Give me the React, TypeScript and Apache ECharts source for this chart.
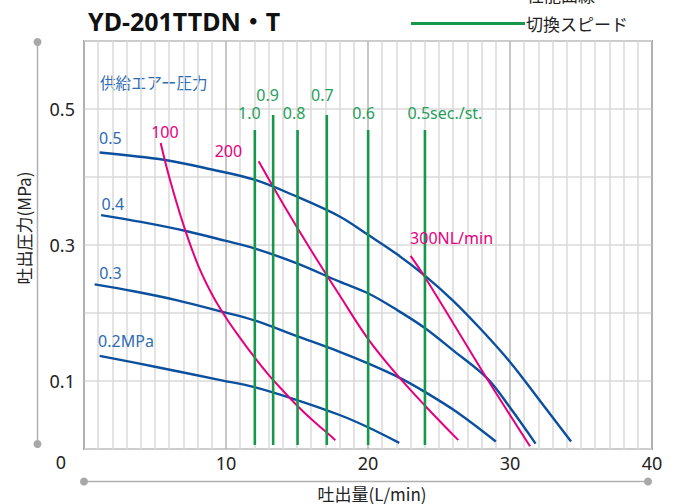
import React, { useEffect, useRef } from "react";
import * as echarts from "echarts";

// ---- data ----
const pressureLabels = ["0.5", "0.4", "0.3", "0.2MPa"];
const pressure05: number[][] = [
  [1.1, 0.436], [5.7, 0.425], [9, 0.411], [12, 0.396], [15, 0.371], [18, 0.342],
  [20, 0.315], [22, 0.287], [24, 0.255], [26, 0.218], [28, 0.175], [30, 0.128],
  [32, 0.074], [34.3, 0.011],
];
const pressure04: number[][] = [
  [1.2, 0.344], [4, 0.334], [7.1, 0.321], [10, 0.306], [12, 0.295], [15, 0.273],
  [18, 0.246], [20, 0.229], [22, 0.205], [24, 0.178], [26, 0.145], [28.4, 0.104],
  [30, 0.061], [31.8, 0.008],
];
const pressure03: number[][] = [
  [0.75, 0.242], [3.5, 0.232], [6.5, 0.219], [9.7, 0.202], [12, 0.189], [15, 0.166],
  [18, 0.143], [20, 0.126], [22.2, 0.105], [24, 0.084], [26.2, 0.055], [29, 0.011],
];
const pressure02: number[][] = [
  [1.1, 0.137], [5, 0.121], [9.7, 0.101], [12, 0.091], [15, 0.072], [18, 0.05],
  [20, 0.032], [22.2, 0.009],
];
const consumptionLabels = ["100", "200", "300NL/min"];
const consumption100: number[][] = [
  [5.4, 0.45], [6, 0.4], [7, 0.33], [8, 0.272], [9, 0.228], [10, 0.193], [11, 0.163],
  [12, 0.135], [13, 0.109], [14, 0.086], [15, 0.064], [16, 0.044], [17, 0.026],
  [17.7, 0.013],
];
const consumption200: number[][] = [
  [12.3, 0.423], [14, 0.361], [16, 0.292], [18, 0.226], [20, 0.162], [22, 0.11],
  [24, 0.064], [26.36, 0.013],
];
const consumption300: number[][] = [
  [23, 0.284], [24, 0.253], [26, 0.185], [28.36, 0.104], [31.41, 0.004],
];
const speedLabels = ["1.0", "0.9", "0.8", "0.7", "0.6", "0.5sec./st."];
const speedX = [12.03, 13.32, 15.04, 17.1, 20.01, 24.01];
const speedTop = [0.469, 0.491, 0.469, 0.491, 0.469, 0.469];
const speedBottom = 0.006;
const yTickLabels = ["0.1", "0.3", "0.5"];
const xTickLabels = ["10", "20", "30", "40"];

const BLUE = "#0b4f9f";
const BLUE_TXT = "#2f6cb3";
const MAG = "#e5007e";
const GREEN = "#16984a";
const GREEN_TXT = "#24a05a";
const FONT = '"Noto Sans", "Noto Sans CJK JP", sans-serif';
const JFONT = '"Noto Sans CJK JP", "Noto Sans", sans-serif';
const CLEAR = "rgba(0,0,0,0)";

export default function App() {
  const ref = useRef<HTMLDivElement>(null);
  useEffect(() => {
    document.body.style.margin = "0";
    document.body.style.overflow = "hidden";
    if (!ref.current) return;
    const chart = echarts.init(ref.current, undefined, { renderer: "svg" });

    const curve = (
      name: string,
      data: number[][],
      color: string,
      width: number,
      labelText: string,
      labelColor: string,
      pos: number[],
      align: string
    ) => ({
      type: "line",
      name,
      silent: true,
      smooth: 0.35,
      symbol: "circle",
      symbolSize: 1,
      showSymbol: true,
      lineStyle: { color, width },
      itemStyle: { color: CLEAR, borderWidth: 0 },
      label: { show: false },
      data: data.map((p, i) =>
        i === 0
          ? {
              value: p,
              label: {
                show: true,
                formatter: labelText,
                position: pos,
                align,
                verticalAlign: "middle",
                color: labelColor,
                fontSize: 16,
                fontFamily: FONT,
              },
            }
          : { value: p }
      ),
    });

    const blueSets = [pressure05, pressure04, pressure03, pressure02];
    const bluePos = [[0, -14], [1, -11], [5, -11], [-1, -14]];
    const magSets = [consumption100, consumption200, consumption300];
    const magPos = [[-9, -11], [-16, -10], [0, -17]];
    const magAlign = ["left", "right", "left"];
    const greenPos = [[-5, -17], [-5, -20], [-3, -17], [-4, -20], [-4, -17], [-17, -17]];

    const series: any[] = [];
    blueSets.forEach((d, i) =>
      series.push(curve("p" + i, d, BLUE, 2.4, pressureLabels[i], BLUE_TXT, bluePos[i], "left"))
    );
    magSets.forEach((d, i) =>
      series.push(curve("c" + i, d, MAG, 2, consumptionLabels[i], MAG, magPos[i], magAlign[i]))
    );
    speedX.forEach((x, i) => {
      series.push({
        type: "line",
        name: "切換スピード",
        silent: true,
        symbol: "circle",
        symbolSize: 1,
        showSymbol: true,
        lineStyle: { color: GREEN, width: 2.6 },
        itemStyle: { color: CLEAR, borderWidth: 0 },
        data: [
          { value: [x, speedBottom] },
          {
            value: [x, speedTop[i]],
            label: {
              show: true,
              formatter: speedLabels[i],
              position: greenPos[i],
              align: i === 5 ? "left" : "center",
              verticalAlign: "middle",
              color: GREEN_TXT,
              fontSize: 16,
              fontFamily: FONT,
            },
          },
        ],
      });
    });

    const dot = (cx: number, cy: number) => ({
      type: "circle",
      shape: { cx, cy, r: 4 },
      style: { fill: "#a8a8a8" },
      silent: true,
    });

    chart.setOption({
      animation: false,
      textStyle: { fontFamily: FONT },
      title: {
        text: "YD-201TTDN・T",
        left: 83,
        top: 3,
        textStyle: { fontSize: 25, fontWeight: "bold", color: "#111", fontFamily: FONT },
      },
      legend: {
        data: ["切換スピード"],
        icon: "rect",
        left: 406,
        top: 10,
        itemWidth: 114,
        itemHeight: 3,
        itemGap: 0,
        itemStyle: { color: GREEN, opacity: 1, borderWidth: 0 },
        textStyle: { fontSize: 17, color: "#222", fontFamily: JFONT, padding: [0, 0, 0, -4] },
        selectedMode: false,
      },
      grid: {
        left: 84,
        right: 24,
        top: 41,
        bottom: 55,
        show: true,
        borderColor: "#a8a8a8",
        borderWidth: 2,
        backgroundColor: "transparent",
      },
      xAxis: {
        type: "value",
        min: 0,
        max: 40,
        interval: 10,
        axisLine: { show: false },
        axisTick: { show: false },
        minorTick: { show: false, splitNumber: 10 },
        minorSplitLine: { show: true, lineStyle: { color: "#dadada", width: 1.5 } },
        splitLine: { show: true, lineStyle: { color: "#b4b4b4", width: 1.5 } },
        axisLabel: {
          margin: 5,
          fontSize: 18,
          color: "#222",
          formatter: (v: number) => {
            const s = String(Math.round(v));
            return xTickLabels.indexOf(s) >= 0 ? s : "";
          },
        },
      },
      yAxis: {
        type: "value",
        min: 0,
        max: 0.6,
        interval: 0.1,
        axisLine: { show: false },
        axisTick: { show: false },
        splitLine: { show: true, lineStyle: { color: "#dadada", width: 1.5 } },
        axisLabel: {
          margin: 9,
          fontSize: 18,
          color: "#222",
          formatter: (v: number) => {
            const s = (Math.round(v * 10) / 10).toFixed(1);
            return yTickLabels.indexOf(s) >= 0 ? s : "";
          },
        },
      },
      graphic: [
        {
          type: "text",
          left: 527,
          top: -14,
          style: { text: "性能曲線", fontSize: 17, fill: "#222", fontFamily: JFONT },
          silent: true,
        },
        {
          type: "text",
          x: 100,
          y: 82,
          style: {
            text: "供給エアー圧力",
            fontSize: 15.5,
            fill: BLUE_TXT,
            fontFamily: JFONT,
            verticalAlign: "middle",
          },
          silent: true,
        },
        {
          type: "text",
          x: 61,
          y: 462,
          style: {
            text: "0",
            fontSize: 18,
            fill: "#222",
            fontFamily: FONT,
            align: "center",
            verticalAlign: "middle",
          },
          silent: true,
        },
        {
          type: "text",
          x: 23,
          y: 228,
          rotation: Math.PI / 2,
          style: {
            text: "吐出圧力(MPa)",
            fontSize: 17,
            fill: "#222",
            fontFamily: JFONT,
            align: "center",
            verticalAlign: "middle",
          },
          silent: true,
        },
        {
          type: "text",
          x: 372,
          y: 493,
          style: {
            text: "吐出量(L/min)",
            fontSize: 17,
            fill: "#222",
            fontFamily: JFONT,
            align: "center",
            verticalAlign: "middle",
          },
          silent: true,
        },
        {
          type: "line",
          shape: { x1: 37.5, y1: 42, x2: 37.5, y2: 444 },
          style: { stroke: "#b0b0b0", lineWidth: 1.5 },
          silent: true,
        },
        dot(37.5, 42),
        dot(37.5, 444),
        {
          type: "line",
          shape: { x1: 84, y1: 481.5, x2: 648, y2: 481.5 },
          style: { stroke: "#b0b0b0", lineWidth: 1.5 },
          silent: true,
        },
        dot(84, 481.5),
        dot(648, 481.5),
      ],
      series,
    });
    return () => chart.dispose();
  }, []);
  return <div ref={ref} style={{ width: 676, height: 504 }} />;
}
